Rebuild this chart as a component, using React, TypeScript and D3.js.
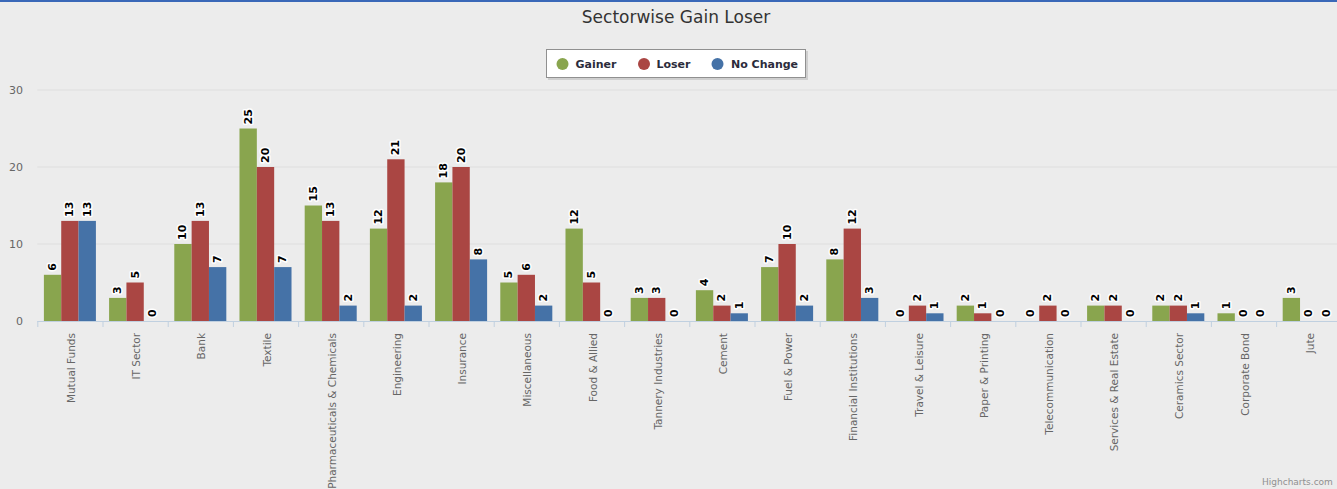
import React from 'react';
import * as d3 from 'd3';

const categories = [
  'Mutual Funds', 'IT Sector', 'Bank', 'Textile', 'Pharmaceuticals & Chemicals',
  'Engineering', 'Insurance', 'Miscellaneous', 'Food & Allied', 'Tannery Industries',
  'Cement', 'Fuel & Power', 'Financial Institutions', 'Travel & Leisure', 'Paper & Printing',
  'Telecommunication', 'Services & Real Estate', 'Ceramics Sector', 'Corporate Bond', 'Jute',
];
const seriesNames = ['Gainer', 'Loser', 'No Change'];
const gainer = [6, 3, 10, 25, 15, 12, 18, 5, 12, 3, 4, 7, 8, 0, 2, 0, 2, 2, 1, 3];
const loser = [13, 5, 13, 20, 13, 21, 20, 6, 5, 3, 2, 10, 12, 2, 1, 2, 2, 2, 0, 0];
const noChange = [13, 0, 7, 7, 2, 2, 8, 2, 0, 0, 1, 2, 3, 1, 0, 0, 0, 1, 0, 0];
const yTicks = [0, 10, 20, 30];

const colors = ['#89A54E', '#AA4643', '#4572A7'];
const seriesValues = [gainer, loser, noChange];

const W = 1352;
const H = 489;
const FONT = '"DejaVu Sans", Verdana, sans-serif';

export default function App() {
  const x = d3.scaleBand<string>().domain(categories).range([37.3, 1341.3]).padding(0);
  const xi = d3.scaleBand<string>().domain(seriesNames).range([0, x.bandwidth()])
    .paddingInner(0).paddingOuter(0.38);
  const y = d3.scaleLinear().domain([0, 30]).range([321, 90]);
  const [x0, x1] = x.range();

  // legend item positions (circle centre, text start)
  const legendItems = [
    { cx: 562.5, tx: 575.5 },
    { cx: 644, tx: 656.5 },
    { cx: 717.5, tx: 731 },
  ];

  return (
    <svg width={W} height={H} style={{ position: 'absolute', left: 0, top: 0, fontFamily: FONT }}>
      <rect x={0} y={0} width={W} height={H} fill="#ececec" />
      <rect x={0} y={0} width={W} height={2} fill="#3a68b8" />

      <text x={676} y={23} textAnchor="middle" fontSize={17} fill="#333">Sectorwise Gain Loser</text>

      {/* legend */}
      <rect x={548} y={51} width={260} height={29} fill="#cfcfcf" />
      <rect x={546.5} y={49.5} width={259} height={28} fill="#fff" stroke="#909090" strokeWidth={1} />
      {seriesNames.map((s, i) => (
        <g key={s}>
          <circle cx={legendItems[i].cx} cy={64} r={6} fill={colors[i]} />
          <text x={legendItems[i].tx} y={68} fontSize={11} fontWeight="bold" fill="#2b2b3b">{s}</text>
        </g>
      ))}

      {/* grid + y labels */}
      {yTicks.map(t => (
        <g key={t}>
          {t > 0 && <line x1={x0} x2={x1} y1={y(t)} y2={y(t)} stroke="#dedede" />}
          <text x={23} y={y(t) + 4} textAnchor="end" fontSize={11} fill="#666">{t}</text>
        </g>
      ))}

      {/* bars */}
      {categories.map((c, ci) => (
        <g key={c} transform={`translate(${x(c)},0)`}>
          {seriesNames.map((s, si) => {
            const v = seriesValues[si][ci];
            return (
              <rect key={s} x={xi(s)} y={y(v)} width={xi.bandwidth()} height={y(0) - y(v)} fill={colors[si]} />
            );
          })}
        </g>
      ))}

      {/* x axis */}
      <line x1={x0} x2={x1} y1={321.5} y2={321.5} stroke="#C0D0E0" />
      {categories.map(c => (
        <line key={c} x1={(x(c) ?? 0) + 0.5} x2={(x(c) ?? 0) + 0.5} y1={321} y2={327} stroke="#C0D0E0" />
      ))}
      {categories.map(c => {
        const cx = (x(c) ?? 0) + x.bandwidth() / 2;
        return (
          <text key={c} transform={`translate(${cx + 1},333) rotate(-90)`} textAnchor="end"
            dominantBaseline="central" fontSize={10.5} fill="#666">{c}</text>
        );
      })}

      {/* data labels */}
      {categories.map((c, ci) => (
        <g key={c}>
          {seriesNames.map((s, si) => {
            const v = seriesValues[si][ci];
            const cx = (x(c) ?? 0) + (xi(s) ?? 0) + xi.bandwidth() / 2;
            return (
              <text key={s} transform={`translate(${cx},${y(v) - 4}) rotate(-90)`} textAnchor="start"
                dominantBaseline="central" fontSize={11} fontWeight="bold" fill="#000"
                stroke="#fff" strokeWidth={3} strokeLinejoin="round" paintOrder="stroke">{v}</text>
            );
          })}
        </g>
      ))}

      <text x={1262} y={485} fontSize={9} fill="#909090">Highcharts.com</text>
    </svg>
  );
}
